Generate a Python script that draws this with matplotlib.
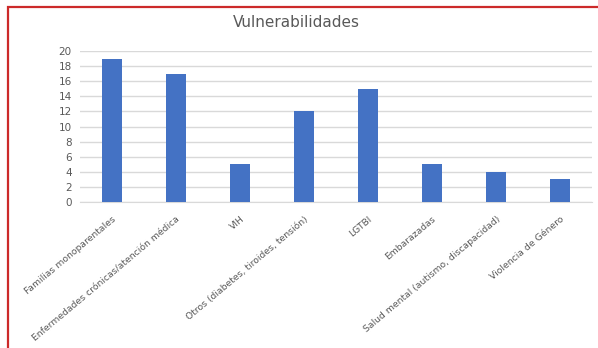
import matplotlib.pyplot as plt
from matplotlib.patches import Rectangle

categorias = ["Familias monoparentales", "Enfermedades crónicas/atención médica", "VIH",
              "Otros (diabetes, tiroides, tensión)", "LGTBI", "Embarazadas",
              "Salud mental (autismo, discapacidad)", "Violencia de Género"]
valores = [19, 17, 5, 12, 15, 5, 4, 3]
yticks = list(range(0, 21, 2))

fig = plt.figure(figsize=(5.98, 3.48), dpi=100)
ax = fig.add_axes([0.134, 0.4195, 0.856, 0.4335])

ax.bar(range(len(categorias)), valores, width=0.31, color="#4472c4", zorder=3)
ax.set_xlim(-0.5, len(categorias) - 0.5)
ax.set_ylim(0, 20)
ax.set_yticks(yticks)
ax.yaxis.grid(True, color="#d9d9d9", linewidth=1, zorder=0)
ax.set_xticks(range(len(categorias)))
ax.set_xticklabels(categorias, rotation=40, ha="right", rotation_mode="anchor",
                   fontsize=6.7, color="#595959")
ax.tick_params(axis="y", labelsize=7.5, labelcolor="#595959", length=0, pad=6)
ax.tick_params(axis="x", length=0, pad=9)
for s in ["top", "right", "left"]:
    ax.spines[s].set_visible(False)
ax.spines["bottom"].set_color("#d9d9d9")

fig.text(0.495, 0.935, "Vulnerabilidades", ha="center", va="center",
         fontsize=11, color="#595959")

# red frame, cut by the image edge on the right and bottom
fig.patches.append(Rectangle((8 / 598, -0.1), 1.2, 1 - 7 / 348 + 0.1,
                             transform=fig.transFigure, fill=False,
                             edgecolor="#cc2a2a", linewidth=1.6, clip_on=False))

fig.savefig("out.png", dpi=100)
